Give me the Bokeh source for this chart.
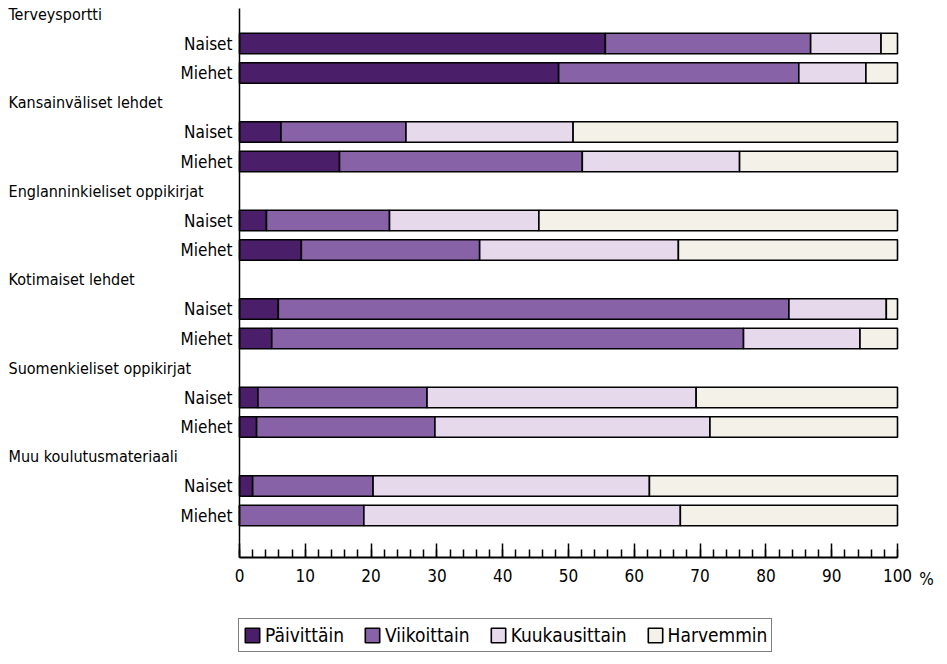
from bokeh.plotting import figure
from bokeh.models import (ColumnDataSource, Range1d, LinearAxis, FixedTicker, Legend,
                          LegendItem)
from bokeh.core.properties import value
from bokeh.embed import file_html
from bokeh.resources import INLINE

# ---- data ----
categories = ["Terveysportti", "Kansainväliset lehdet", "Englanninkieliset oppikirjat",
              "Kotimaiset  lehdet", "Suomenkieliset oppikirjat", "Muu koulutusmateriaali"]
groups = ["Naiset", "Miehet"]
series = ["Päivittäin", "Viikoittain", "Kuukausittain", "Harvemmin"]
# rows: for each category Naiset then Miehet
paivittain = [55.6, 48.5, 6.3, 15.2, 4.1, 9.4, 5.9, 4.9, 2.8, 2.6, 2.0, 0.0]
viikoittain = [31.2, 36.5, 19.0, 36.9, 18.7, 27.1, 77.6, 71.7, 25.7, 27.1, 18.3, 18.9]
kuukausittain = [10.7, 10.2, 25.4, 23.9, 22.7, 30.2, 14.8, 17.7, 40.9, 41.8, 42.0, 48.1]
harvemmin = [2.5, 4.8, 49.3, 24.0, 54.5, 33.3, 1.7, 5.7, 30.6, 28.5, 37.7, 33.0]
x_ticks = list(range(0, 101, 10))
unit_label = "%"

colors = ["#4b1e6a", "#8862a6", "#e7d9ec", "#f4f1e9"]
FONT = "DejaVu Sans Condensed"

# ---- layout positions (slots) ----
header_y = [3 * g for g in range(len(categories))]
row_y, row_label = [], []
for g in range(len(categories)):
    for k, grp in enumerate(groups):
        row_y.append(3 * g + 1 + k)
        row_label.append(grp)

src = ColumnDataSource(dict(y=row_y, Päivittäin=paivittain, Viikoittain=viikoittain,
                            Kuukausittain=kuukausittain, Harvemmin=harvemmin))

PX = 6.58      # pixels per percent
SLOT = 29.5    # pixels per row slot
Y_AXIS = (557 - 13.5) / SLOT
p = figure(width=947, height=664, output_backend="svg", toolbar_location=None,
           x_range=Range1d(-239 / PX, (947 - 239) / PX),
           y_range=Range1d((664 - 13.5) / SLOT, -13.5 / SLOT),
           x_axis_location=None, y_axis_location=None,
           min_border_left=0, min_border_right=0, min_border_top=0, min_border_bottom=0)
p.outline_line_color = None
p.background_fill_color = "white"
p.grid.visible = False

rs = p.hbar_stack(series, y="y", height=0.69, color=colors, line_color="black",
                  line_width=1.6, source=src)

# vertical axis line
p.segment(x0=[0], y0=[-0.19], x1=[0], y1=[Y_AXIS], line_color="black", line_width=1.5)

# labels
p.text(x=[-35.1] * len(categories), y=header_y, text=categories, text_align="left",
       text_baseline="middle", text_font=value(FONT), text_font_size="16px", text_color="black")
p.text(x=[-1.06] * len(row_y), y=row_y, text=row_label, text_align="right",
       text_baseline="middle", text_font=value(FONT), text_font_size="17px", text_color="black")
p.text(x=[104.4], y=[Y_AXIS + 0.72], text=[unit_label], text_align="center",
       text_baseline="middle", text_font=value(FONT), text_font_size="17px", text_color="black")

xaxis = LinearAxis(bounds=(0, 100), fixed_location=Y_AXIS,
                   ticker=FixedTicker(ticks=x_ticks, minor_ticks=list(range(0, 101, 2))))
xaxis.axis_line_width = 2
xaxis.axis_line_color = "black"
xaxis.major_tick_in = 14
xaxis.major_tick_out = 0
xaxis.minor_tick_in = 8
xaxis.minor_tick_out = 0
xaxis.major_tick_line_width = 1.5
xaxis.minor_tick_line_width = 1.5
xaxis.major_tick_line_color = "black"
xaxis.minor_tick_line_color = "black"
xaxis.major_label_text_font = FONT
xaxis.major_label_text_font_size = "17px"
xaxis.major_label_text_color = "black"
xaxis.major_label_standoff = 11
p.add_layout(xaxis, "below")

legend = Legend(items=[LegendItem(label=s, renderers=[r]) for s, r in zip(series, rs)],
                orientation="horizontal", location=(238, 12))
legend.border_line_color = "black"
legend.border_line_width = 1
legend.label_text_font = FONT
legend.label_text_font_size = "19px"
legend.label_text_color = "black"
legend.glyph_width = 18
legend.glyph_height = 18
legend.label_height = 24
legend.spacing = 19
legend.padding = 4
legend.margin = 0
legend.label_standoff = 4
p.add_layout(legend)

open("out.html", "w").write(file_html(p, INLINE))
